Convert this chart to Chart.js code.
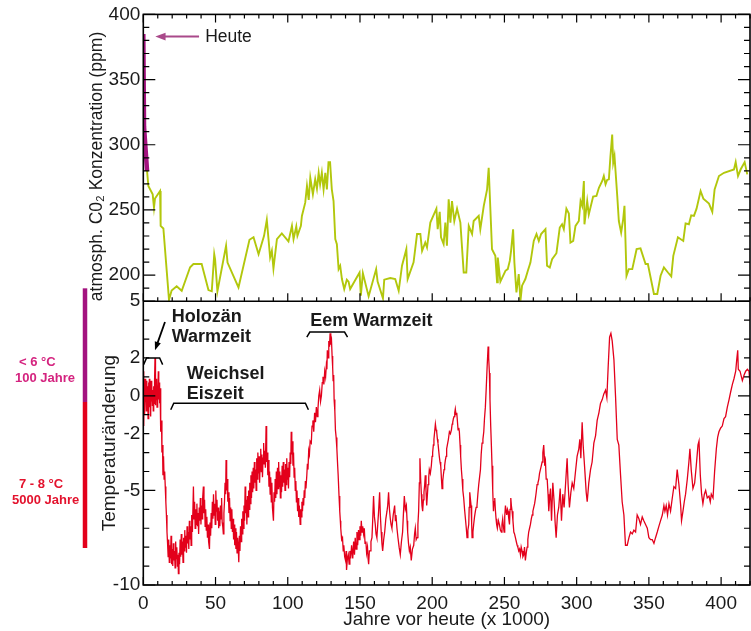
<!DOCTYPE html>
<html lang="de">
<head>
<meta charset="utf-8">
<title>CO2 und Temperatur - Eiskern</title>
<script src="https://cdn.jsdelivr.net/npm/chart.js@4.4.1/dist/chart.umd.min.js"></script>
<style>
    html, body { margin: 0; padding: 0; background: #fff; }
    canvas { display: block; }
</style>
</head>
<body>
<canvas id="chart1" width="751" height="631"></canvas>
<script>
// Achsen-Beschriftungen //
const jahreTicks = [0, 50, 100, 150, 200, 250, 300, 350, 400];
const co2Ticks = [200, 250, 300, 350, 400];
const tempTicks = [-10, -5, -2, 0, 2, 5];

// CO2 heute (Anstieg der letzten Zeit) [Jahre x 1000, ppm]
const co2Heute = [[0, 385], [0.5, 314], [2.6, 280]];

// CO2 aus dem Eiskern [Jahre x 1000, ppm]
const co2Werte = [
    [2.6, 280], [3.5, 268.4], [6.5, 262], [7.4, 251.8], [8.1, 258.7], [11.6, 264.5], [12.0, 237.8], [13.9, 235.8],
    [17.8, 181], [19.6, 188.2], [23.1, 191.4], [26.6, 188], [32.4, 206], [34.7, 208.5], [40.4, 208.5], [45.1, 188.5],
    [47.4, 187.6], [49.1, 216], [49.7, 212], [51.3, 187.5], [57.3, 222.5], [58.3, 209.6], [65.9, 190.5], [73.5, 227.1],
    [76.3, 229], [79.8, 216], [83.6, 230.1], [85.5, 242.4], [87.8, 213.5], [89.0, 218.6], [90.1, 205.1], [92.5, 227.6],
    [95.9, 232], [100.5, 225.9], [102.9, 237.8], [104.0, 227.6], [105.9, 237.3], [106.7, 230.1], [109.1, 237.8], [109.8, 245.4],
    [112.1, 255.6], [113.3, 268.4], [114.5, 257.7], [115.6, 274.7], [117.4, 262], [119.0, 273.5], [120.2, 266.3], [121.4, 278.5],
    [122.4, 269.7], [123.6, 278.5], [124.8, 265.8], [126.0, 278.5], [127.1, 265.8], [128.2, 286.7], [129.3, 286.7], [130.5, 265.8],
    [131.7, 256.8], [132.9, 227.6], [134.0, 223.8], [135.2, 204.6], [136.3, 207.2], [137.5, 197], [139.1, 189.3], [140.9, 196.5],
    [142.1, 195], [143.2, 189.3], [149.7, 202], [150.6, 184.2], [152.0, 201.5], [156.0, 183.7], [161.2, 204.6], [162.2, 195],
    [165.9, 182.2], [166.8, 196.5], [171.0, 197.8], [174.4, 197], [176.8, 188], [179.1, 207.2], [182.1, 219.9], [183.0, 197],
    [187.1, 209.8], [189.5, 231.5], [191.8, 231.5], [193.0, 218.6], [195.2, 225], [196.4, 221.2], [198.7, 240.3], [202.9, 251],
    [203.8, 235.2], [205.2, 248.5], [206.1, 229], [207.9, 223.8], [209.1, 240.3], [210.2, 222.5], [211.4, 258.1], [212.6, 240.3],
    [213.7, 256.8], [215.3, 241.5], [217.2, 251], [219.5, 240.3], [221.8, 202], [223.6, 202], [225.3, 237.8], [227.6, 231.5],
    [228.7, 241.5], [232.2, 245.4], [233.3, 235.2], [235.7, 253.1], [238.0, 265.8], [239.1, 282.4], [241.4, 219.9], [243.7, 214.8],
    [244.9, 194.4], [245.4, 213.5], [247.2, 195], [250.7, 203.3], [252.3, 204.6], [253.7, 210.9], [254.6, 218.6], [256.0, 235.2],
    [256.9, 209.6], [258.3, 186.7], [259.9, 200.8], [261.1, 180.4], [262.2, 191.9], [264.5, 197], [266.2, 203.3], [268.0, 209.6],
    [270.3, 226.2], [272.2, 231.5], [273.8, 226.2], [275.4, 231.5], [278.4, 235.2], [279.5, 207.2], [281.4, 205.9], [283.0, 212.2],
    [286.0, 216.8], [288.3, 236.5], [289.9, 239], [291.1, 235.2], [292.9, 251], [294.6, 247.3], [295.7, 224.9], [297.6, 226.2],
    [299.2, 237.8], [301.5, 241.5], [302.7, 256.8], [303.8, 253.1], [305.0, 272.2], [305.4, 239], [307.3, 256.8], [308.4, 246.6],
    [311.4, 260.2], [313.7, 260.7], [315.4, 267], [317.7, 272.2], [318.8, 276], [320.0, 269.7], [321.1, 273], [322.3, 273.5],
    [323.4, 291.3], [324.6, 307.8], [325.3, 286.2], [326.2, 291.3], [328.1, 260.7], [329.2, 241.5], [330.8, 232.7], [332.2, 242.8],
    [333.1, 253.1], [334.5, 199.5], [336.1, 204.6], [338.5, 204.6], [341.5, 219.9], [344.2, 220.5], [347.7, 208.5], [349.3, 208.5],
    [353.5, 185.5], [355.8, 185.5], [358.1, 199.5], [360.4, 205.9], [363.2, 202], [365.5, 199], [366.9, 214.8], [370.1, 229],
    [373.8, 226.2], [375.4, 239.7], [377.7, 239], [379.3, 245.9], [381.2, 245.4], [383.0, 251], [385.8, 264.5], [387.7, 258.7],
    [391.6, 254.9], [393.9, 248.5], [395.5, 265.8], [398.5, 276], [402.0, 278.5], [408.9, 281], [410.1, 286.7], [411.7, 276],
    [413.5, 281], [416.3, 286.7], [418.1, 277.3]
];

// Temperaturänderung [Jahre x 1000, °C]
const tempWerte = [
    [0, 1.3], [0.3, -1.6], [0.6, 0.5], [0.9, -1.0], [1.2, 0.9], [1.5, -0.3], [1.8, 0.6], [2.1, -0.8], [2.4, 0.8], [2.7, -0.2],
    [3.0, 0.5], [3.3, -1.2], [3.6, 0.7], [3.9, -0.4], [4.2, 0.9], [4.5, -0.6], [4.8, 0.4], [5.1, -1.1], [5.4, 0.8], [5.7, -0.3],
    [6.0, 0.6], [6.3, -0.5], [6.6, 0.3], [6.9, -0.8], [7.2, 0.5], [7.5, -0.4], [7.8, 0.8], [8.1, 2.0], [8.3, -0.5], [8.6, 0.6],
    [8.9, -0.2], [9.2, 0.9], [9.5, -0.6], [9.8, 0.5], [10.1, -0.3], [10.4, 1.3], [10.7, -0.2], [11.0, 0.7], [11.3, -0.4], [11.6, 0.4],
    [11.9, -0.8], [12.2, -1.9], [12.6, -1.3], [12.9, -3.0], [13.3, -2.6], [13.6, -4.2], [14.0, -3.2], [14.4, -4.4], [14.8, -4.0], [15.2, -4.8],
    [15.6, -5.6], [16.0, -6.3], [16.4, -7.2], [16.8, -7.8], [17.2, -8.5],
    [17.6, -7.6], [18.0, -8.8], [18.4, -7.9], [18.8, -8.6], [19.2, -7.4], [19.6, -8.9], [20.0, -8.1], [20.4, -9.0], [20.8, -7.8], [21.2, -8.7],
    [21.6, -8.2], [22.0, -9.1], [22.4, -7.7], [22.8, -8.6], [23.2, -8.0], [23.6, -9.0], [24.0, -8.4], [24.3, -9.4], [24.7, -8.3], [25.1, -8.9],
    [25.5, -7.6], [25.9, -8.5], [26.3, -7.3], [26.7, -8.4], [27.1, -7.7], [27.5, -8.8], [27.9, -7.5], [28.3, -8.2], [28.7, -7.1], [29.1, -8.0],
    [29.5, -7.4], [29.9, -8.3], [30.3, -6.9], [30.7, -7.8], [31.1, -7.2], [31.5, -8.1], [31.9, -6.6], [32.3, -7.6], [32.7, -6.9], [33.1, -7.9],
    [33.5, -6.3], [34.0, -7.2], [34.7, -4.8], [35.1, -6.5], [35.5, -5.6], [35.9, -7.0], [36.3, -6.0], [36.7, -6.8], [37.1, -5.7], [37.5, -6.9],
    [37.9, -6.2], [38.3, -7.3], [38.7, -5.9], [39.1, -6.6], [39.5, -5.4], [39.9, -6.8], [40.3, -5.8], [40.7, -6.5], [41.1, -5.4], [41.6, -4.8],
    [42.0, -6.2], [42.4, -5.5], [42.8, -6.9], [43.2, -6.0], [43.6, -7.1], [44.0, -6.4], [44.4, -7.5], [44.8, -6.8], [45.2, -7.7], [45.8, -8.1],
    [46.2, -6.7], [46.6, -7.4], [47.0, -6.2], [47.4, -7.0], [47.8, -5.6], [48.2, -6.5], [48.6, -5.2], [49.0, -6.3], [49.4, -5.7], [49.8, -6.8],
    [50.2, -5.0], [50.6, -6.1], [51.0, -5.5], [51.4, -6.6], [51.8, -5.9], [52.2, -7.0], [52.6, -6.1], [53.0, -6.9], [53.4, -5.8], [53.8, -6.5],
    [54.2, -5.4], [54.6, -6.7], [55.0, -6.9], [55.4, -7.3], [55.8, -6.2], [56.2, -5.6], [56.6, -4.6], [57.0, -5.2], [57.3, -3.4], [57.7, -5.0],
    [58.1, -4.4], [58.5, -5.6], [58.9, -5.1], [59.3, -6.2], [59.7, -5.4], [60.1, -6.6], [60.5, -5.9], [60.9, -7.0], [61.3, -6.0], [61.7, -7.2],
    [62.1, -6.5], [62.5, -7.6], [62.9, -6.8], [63.3, -7.9], [63.7, -7.0], [64.1, -8.1], [64.5, -7.2], [64.9, -8.3], [65.3, -7.5], [65.7, -8.0],
    [66.1, -8.8], [66.5, -7.4], [66.9, -8.2], [67.3, -6.9], [67.7, -7.7], [68.1, -6.5], [68.5, -7.3], [68.9, -6.1], [69.3, -7.0], [69.7, -5.8],
    [70.1, -6.6], [70.5, -4.8], [70.9, -6.2], [71.3, -5.5], [71.7, -6.8], [72.1, -5.3], [72.5, -6.4], [72.9, -5.0], [73.3, -6.0], [73.7, -4.6],
    [74.1, -5.7], [74.5, -4.2], [74.9, -5.4], [75.3, -4.0], [75.7, -5.1], [76.1, -3.8], [76.5, -4.9], [76.9, -3.5], [77.3, -4.6], [77.7, -3.9],
    [78.1, -5.0], [78.5, -3.3], [78.9, -4.4], [79.3, -3.0], [79.7, -4.1], [80.1, -3.2], [80.5, -4.6], [80.9, -3.6], [81.3, -2.8], [81.7, -4.0],
    [82.1, -3.1], [82.5, -4.3], [82.9, -3.3], [83.3, -2.5], [83.7, -3.6], [84.1, -2.9], [84.5, -3.8], [85.0, -1.6], [85.4, -3.5], [85.8, -3.0],
    [86.2, -4.2], [86.6, -3.4], [87.0, -4.8], [87.4, -4.0], [87.8, -5.2], [88.2, -4.3], [88.6, -5.6], [89.0, -4.6], [89.4, -5.9], [90.1, -6.6],
    [90.5, -5.1], [90.9, -5.6], [91.3, -4.4], [91.7, -5.4], [92.1, -4.0], [92.5, -5.2], [92.9, -3.8], [93.3, -4.9], [93.7, -3.5], [94.1, -4.8],
    [94.5, -4.0], [94.9, -5.4], [95.3, -4.2], [95.7, -5.1], [96.1, -3.7], [96.5, -4.8], [96.9, -3.5], [97.3, -4.6], [97.7, -3.9], [98.1, -5.0],
    [98.5, -3.6], [98.9, -4.7], [99.3, -3.3], [99.7, -4.4], [100.1, -3.8], [100.5, -4.9], [100.9, -3.5], [101.3, -4.3], [101.7, -3.0], [102.1, -3.6],
    [102.4, -1.9], [102.8, -3.1], [103.2, -2.4], [103.6, -3.7], [104.0, -3.0], [104.4, -4.3], [104.8, -3.8], [105.2, -5.0], [105.6, -4.5], [106.0, -5.6],
    [106.4, -5.0], [106.8, -6.1], [107.2, -5.4], [107.6, -6.4], [108.0, -5.8], [108.6, -6.8], [109.0, -6.0], [109.4, -6.4], [109.8, -5.6], [110.2, -6.1],
    [110.6, -5.4], [111.0, -5.8], [111.4, -5.0], [111.8, -5.4], [112.2, -4.5], [112.6, -4.9], [113.2, -4.2], [113.6, -3.6], [114.0, -3.9], [114.5, -2.9],
    [115.0, -3.1], [115.5, -2.4], [116.3, -2.5], [116.8, -1.6], [117.4, -1.3], [118.0, -1.9], [118.6, -0.9], [119.2, -1.4], [119.8, -0.6], [120.4, -1.1],
    [120.9, -0.7], [121.5, 0.0], [122.1, 0.3], [122.7, -0.3], [123.3, 0.0], [123.9, 0.7], [124.4, 1.0], [125.0, 0.6], [125.6, 1.3], [126.2, 1.0],
    [126.7, 1.6], [127.1, 1.4], [127.4, 2.4], [127.9, 2.0], [128.4, 2.9], [128.9, 2.6], [129.3, 3.3], [129.8, 2.7], [130.3, 2.9], [130.7, 2.1],
    [131.1, 1.5], [131.4, 0.8], [131.8, 1.1], [132.1, -0.2], [132.6, -0.8], [133.0, -1.8], [133.5, -2.2], [134.0, -2.8], [134.5, -3.6], [134.9, -4.2],
    [135.5, -5.3], [136.0, -6.1], [136.4, -6.6], [136.7, -7.0], [137.3, -7.6], [137.9, -7.5], [138.4, -8.2], [138.8, -7.9], [139.4, -8.5], [140.0, -8.7],
    [140.4, -8.2], [140.7, -9.2], [141.3, -8.6], [141.9, -8.4], [142.5, -8.9], [143.0, -8.2], [143.6, -8.6], [144.2, -7.9], [145.0, -8.6], [145.6, -7.7],
    [146.2, -8.4], [146.7, -7.5], [147.3, -8.1], [147.9, -7.2], [148.4, -7.9], [149.0, -7.1], [149.5, -7.6], [150.0, -6.9], [150.5, -7.4], [150.9, -6.6],
    [151.4, -7.2], [151.9, -6.9], [152.5, -7.3], [153.0, -7.0], [153.5, -7.8], [154.1, -7.7], [154.6, -8.3], [155.2, -8.0], [155.6, -8.6], [156.0, -8.9],
    [156.5, -8.2], [157.1, -8.2], [157.6, -7.7], [158.3, -7.5], [158.8, -6.6], [159.4, -5.3], [160.0, -6.4], [160.6, -6.8], [161.1, -7.3], [161.7, -7.5],
    [162.3, -6.8], [162.9, -6.1], [163.6, -5.1], [164.1, -6.3], [164.7, -7.2], [165.2, -7.8], [165.7, -8.2], [166.4, -7.6], [167.1, -7.2], [167.9, -6.5],
    [168.7, -6.1], [169.2, -5.8], [169.8, -5.1], [170.4, -6.0], [171.0, -6.5], [171.5, -6.8], [172.1, -7.0], [173.0, -6.3], [174.0, -5.8], [174.5, -6.6],
    [174.9, -6.3], [175.6, -7.0], [176.3, -7.5], [177.1, -8.0], [177.9, -8.4], [178.7, -7.7], [179.5, -7.2], [180.1, -6.2], [180.7, -5.3], [181.4, -6.0],
    [182.1, -5.8], [182.6, -6.6], [183.0, -7.2], [183.6, -7.8], [184.2, -8.2], [184.8, -8.0], [185.5, -8.7], [186.3, -8.1], [187.2, -7.9], [187.8, -7.3],
    [188.3, -7.0], [188.9, -7.6], [189.5, -7.5], [190.1, -6.8], [190.6, -6.1], [191.1, -4.6], [191.5, -3.3], [192.0, -4.4], [192.5, -5.2], [192.9, -5.8],
    [193.4, -6.1], [193.9, -5.5], [194.3, -5.1], [194.8, -4.7], [195.2, -4.2], [195.7, -5.0], [196.2, -5.8], [196.7, -5.2], [197.1, -4.7], [197.6, -4.3],
    [198.0, -3.9], [198.7, -4.1], [199.4, -3.7], [199.9, -3.2], [200.3, -3.0], [200.8, -2.6], [201.2, -2.3], [201.7, -1.9], [202.2, -1.5], [202.7, -1.8],
    [203.1, -1.9], [203.6, -2.3], [204.0, -2.5], [204.5, -2.9], [204.9, -3.2], [205.4, -3.5], [205.9, -3.7], [206.4, -4.4], [206.8, -4.9], [207.3, -4.5],
    [207.7, -4.2], [208.2, -3.9], [208.6, -3.7], [209.1, -3.4], [209.6, -3.2], [210.0, -2.8], [210.5, -2.6], [211.2, -2.3], [211.9, -1.9], [212.6, -2.0],
    [213.3, -1.8], [213.8, -1.5], [214.2, -1.4], [214.7, -1.2], [215.1, -1.1], [215.6, -0.9], [216.0, -0.7], [216.5, -1.0], [217.0, -0.9], [217.5, -1.4],
    [217.9, -1.8], [218.4, -1.7], [218.8, -1.9], [219.3, -2.6], [219.7, -3.2], [220.2, -3.9], [220.7, -4.4], [221.2, -5.0], [221.8, -5.4], [222.4, -6.0],
    [223.0, -6.5], [223.6, -7.0], [224.1, -7.5], [224.7, -7.1], [225.3, -6.8], [225.6, -5.9], [226.0, -5.1], [226.5, -5.5], [226.9, -5.8], [227.3, -6.7],
    [227.6, -7.5], [228.2, -7.2], [228.7, -6.8], [229.3, -6.4], [229.9, -6.1], [230.4, -5.9], [231.0, -5.8], [231.6, -5.2], [232.2, -4.7], [232.8, -4.3],
    [233.4, -3.9], [233.9, -3.1], [234.5, -2.5], [235.1, -2.3], [235.7, -1.9], [236.2, -1.2], [236.8, -0.6], [237.4, 0.4], [238.0, 1.5], [238.7, 2.6],
    [239.1, 2.0], [239.6, 1.2], [240.0, -0.2], [240.5, -1.6], [241.0, -2.7], [241.4, -3.7], [241.9, -5.0], [242.4, -6.1], [242.8, -5.6], [243.3, -5.4],
    [243.7, -6.0], [244.2, -6.5], [244.6, -6.8], [245.1, -7.0], [245.8, -6.6], [246.5, -6.8], [247.2, -7.1], [247.9, -7.2], [248.3, -6.8], [248.8, -6.5],
    [249.3, -6.9], [249.8, -7.2], [250.2, -6.4], [250.7, -5.8], [251.2, -6.1], [251.6, -6.3], [252.1, -6.0], [252.5, -6.1], [253.0, -6.5], [253.5, -6.8],
    [253.9, -6.0], [254.4, -5.4], [254.8, -5.8], [255.3, -6.1], [255.9, -6.6], [256.5, -7.2], [257.0, -7.3], [257.6, -7.5], [258.2, -7.7], [258.8, -7.9],
    [259.3, -8.0], [259.9, -8.2], [260.5, -8.1], [261.1, -8.4], [261.6, -8.0], [262.2, -8.2], [262.8, -8.5], [263.4, -8.4], [263.9, -8.0], [264.5, -8.7],
    [265.1, -8.3], [265.7, -8.0], [266.2, -7.6], [266.8, -7.2], [267.4, -7.0], [268.0, -6.8], [268.6, -6.5], [269.2, -6.3], [269.7, -6.1], [270.3, -5.9],
    [270.9, -5.7], [271.5, -5.4], [272.0, -5.1], [272.6, -4.7], [273.2, -4.6], [273.8, -4.4], [274.3, -4.1], [274.9, -3.9], [275.5, -3.7], [276.1, -3.5],
    [276.6, -3.0], [277.2, -2.6], [277.6, -3.2], [277.9, -3.7], [278.4, -3.5], [278.9, -4.4], [279.6, -4.4], [280.2, -5.2], [280.7, -6.1], [281.3, -5.4],
    [281.9, -4.9], [282.6, -6.6], [283.5, -4.6], [284.4, -5.6], [285.1, -6.7], [285.8, -7.5], [286.7, -6.3], [287.6, -5.9], [288.6, -4.9], [289.5, -6.6],
    [290.4, -5.2], [291.3, -5.9], [292.3, -4.7], [293.4, -3.3], [294.1, -4.7], [295.0, -5.9], [296.0, -5.1], [296.9, -4.6], [298.0, -4.9], [299.2, -4.0],
    [300.3, -3.2], [301.5, -2.8], [302.2, -2.3], [302.9, -3.3], [303.8, -1.4], [304.5, -2.6], [305.7, -4.0], [306.6, -5.1], [307.3, -5.6], [308.4, -4.6],
    [309.6, -3.9], [310.7, -3.5], [311.9, -2.5], [313.1, -2.1], [314.2, -1.3], [315.4, -0.9], [316.5, -0.4], [317.7, -0.2], [318.8, 0.1], [320.0, 0.3],
    [320.9, -0.1], [321.8, 1.5], [322.8, 3.1], [323.7, 3.3], [324.6, 2.9], [325.8, 1.9], [326.9, 0.0], [328.1, -2.3], [329.2, -2.6], [330.4, -4.2],
    [331.5, -5.6], [332.7, -6.3], [333.8, -7.9], [335.0, -7.9], [336.2, -7.5], [337.3, -7.2], [338.5, -7.3], [339.6, -7.1], [340.8, -7.2], [341.9, -6.3],
    [343.1, -6.5], [344.2, -6.8], [345.4, -6.4], [346.5, -6.6], [347.7, -6.8], [348.9, -7.0], [350.0, -7.5], [351.2, -7.6], [352.3, -7.6], [353.5, -7.8],
    [354.6, -7.5], [355.8, -7.2], [356.9, -6.9], [358.1, -6.6], [359.3, -6.3], [360.4, -5.8], [361.1, -6.1], [362.0, -5.8], [362.9, -6.3], [363.9, -5.7],
    [365.0, -6.1], [366.2, -5.4], [367.3, -4.8], [368.5, -4.9], [369.6, -3.9], [370.8, -4.7], [372.0, -5.8], [372.6, -6.6], [373.6, -6.1], [374.5, -5.6],
    [375.4, -5.2], [376.6, -4.4], [377.7, -3.5], [378.4, -2.8], [379.3, -3.9], [380.5, -4.9], [381.7, -4.6], [382.8, -3.7], [384.0, -2.6], [384.7, -2.4],
    [385.6, -4.2], [386.5, -5.2], [387.4, -5.7], [388.4, -5.2], [389.3, -5.0], [390.4, -5.4], [391.6, -5.3], [392.5, -5.6], [393.2, -5.2], [394.4, -5.4],
    [395.5, -4.0], [396.7, -2.8], [397.6, -2.2], [398.5, -1.9], [399.7, -1.7], [400.8, -1.6], [402.0, -1.2], [403.1, -1.1], [404.3, -0.6], [405.5, -0.2],
    [406.6, 0.2], [407.8, 0.6], [408.9, 0.9], [410.1, 1.3], [410.8, 1.9], [411.5, 2.4], [411.9, 1.4], [413.1, 1.3], [414.7, 0.8], [415.9, 1.1],
    [417.0, 1.3], [418.2, 1.4], [419.3, 1.3], [420.0, 0.6]
];

const SCHRIFT = "'Liberation Sans', Arial, Helvetica, sans-serif";
const TEXTFARBE = '#1a1a1a';

// Rahmen und Striche nach innen (wie im Original)
const rahmenPlugin = {
    id: 'rahmen',
    afterDatasetsDraw(chart) {
        const {ctx, chartArea: a} = chart;
        const {x, yT, yB} = chart.scales;
        const strich = (x1, y1, x2, y2) => { ctx.moveTo(x1, y1); ctx.lineTo(x2, y2); };

        ctx.save();
        ctx.strokeStyle = '#000';
        ctx.lineWidth = 1.2;
        ctx.beginPath();

        // y-Striche links und rechts
        [[yT, 10, 50], [yB, 1, 5]].forEach(([s, schritt, haupt]) => {
            const n = Math.round((s.max - s.min) / schritt);
            for (let i = 0; i <= n; i++) {
                const v = s.min + i * schritt;
                const py = s.getPixelForValue(v);
                const len = v % haupt === 0 ? 12 : 6;
                strich(a.left, py, a.left + len, py);
                strich(a.right, py, a.right - len, py);
            }
        });

        // x-Striche unten, in der Mitte und oben
        const n = Math.round((x.max - x.min) / 10);
        for (let i = 0; i <= n; i++) {
            const v = x.min + i * 10;
            const px = x.getPixelForValue(v);
            const len = v % 50 === 0 ? 8 : 4;
            strich(px, a.bottom, px, a.bottom - len);
            strich(px, yT.bottom, px, yT.bottom - len);
            strich(px, a.top, px, a.top + len);
        }
        ctx.stroke();

        ctx.lineWidth = 1.6;
        ctx.strokeRect(a.left, a.top, a.right - a.left, a.bottom - a.top);
        ctx.beginPath();
        strich(a.left, yT.bottom, a.right, yT.bottom);
        ctx.stroke();
        ctx.restore();
    }
};

function pfeil(ctx, x1, y1, x2, y2, farbe, breite, kopf) {
    const w = Math.atan2(y2 - y1, x2 - x1);
    ctx.strokeStyle = farbe;
    ctx.fillStyle = farbe;
    ctx.lineWidth = breite;
    ctx.beginPath();
    ctx.moveTo(x1, y1);
    ctx.lineTo(x2 - Math.cos(w) * kopf * 0.8, y2 - Math.sin(w) * kopf * 0.8);
    ctx.stroke();
    ctx.beginPath();
    ctx.moveTo(x2, y2);
    ctx.lineTo(x2 - kopf * Math.cos(w - 0.36), y2 - kopf * Math.sin(w - 0.36));
    ctx.lineTo(x2 - kopf * Math.cos(w + 0.36), y2 - kopf * Math.sin(w + 0.36));
    ctx.closePath();
    ctx.fill();
}

// Beschriftungen, Klammern und Pfeile
const notizPlugin = {
    id: 'notizen',
    afterDraw(chart) {
        const {ctx} = chart;
        const {x, yT, yB} = chart.scales;
        const X = v => x.getPixelForValue(v);
        const B = v => yB.getPixelForValue(v);
        const T = v => yT.getPixelForValue(v);

        ctx.save();

        // Heute
        pfeil(ctx, X(38.6), T(383), X(8.3), T(383), '#a9498a', 2, 11);
        ctx.fillStyle = TEXTFARBE;
        ctx.font = '17.5px ' + SCHRIFT;
        ctx.textBaseline = 'middle';
        ctx.textAlign = 'left';
        ctx.fillText('Heute', X(42.8), T(382.5));

        // Warm- und Eiszeiten
        ctx.textBaseline = 'alphabetic';
        ctx.font = 'bold 18px ' + SCHRIFT;
        ctx.fillText('Holozän', X(19.7), B(3.9));
        ctx.fillText('Warmzeit', X(19.7), B(2.82));
        ctx.fillText('Weichsel', X(30.1), B(0.9));
        ctx.fillText('Eiszeit', X(30.1), B(-0.17));
        ctx.fillText('Eem Warmzeit', X(115.5), B(3.69));

        // Klammern
        ctx.strokeStyle = '#000';
        ctx.lineWidth = 1.5;
        [[0.2, 13.4, 2.0, 1.65], [19.0, 114.3, -0.39, -0.74], [113.2, 141.4, 3.37, 3.1]].forEach(([x1, x2, oben, ende]) => {
            ctx.beginPath();
            ctx.moveTo(X(x1), B(ende));
            ctx.lineTo(X(x1) + 3, B(oben));
            ctx.lineTo(X(x2) - 3, B(oben));
            ctx.lineTo(X(x2), B(ende));
            ctx.stroke();
        });

        pfeil(ctx, X(15.0), B(3.9), X(8.1), B(2.41), '#000', 1.8, 9);

        // Skala links: Balken und Texte
        ctx.lineWidth = 4.5;
        ctx.strokeStyle = '#a3127f';
        ctx.beginPath();
        ctx.moveTo(85, B(5.68));
        ctx.lineTo(85, B(-0.33));
        ctx.stroke();
        ctx.strokeStyle = '#e3001b';
        ctx.beginPath();
        ctx.moveTo(85, B(-0.33));
        ctx.lineTo(85, B(-8.04));
        ctx.stroke();

        ctx.font = 'bold 13px ' + SCHRIFT;
        ctx.textBaseline = 'middle';
        ctx.fillStyle = '#d4237f';
        ctx.fillText('< 6 °C', 19, 362);
        ctx.fillText('100 Jahre', 15, 378);
        ctx.fillStyle = '#e3122d';
        ctx.fillText('7 - 8 °C', 19, 484);
        ctx.fillText('5000 Jahre', 12, 500);

        ctx.restore();
    }
};

const canvas1 = document.getElementById('chart1');

new Chart(canvas1, {
    type: 'line',
    data: {
        datasets: [{
            label: 'CO2',
            data: co2Werte.map(([x, y]) => ({x, y})),
            yAxisID: 'yT',
            borderColor: '#b2c70c',
            borderWidth: 1.9,
            pointRadius: 0,
            tension: 0,
        }, {
            label: 'CO2 heute',
            data: co2Heute.map(([x, y]) => ({x, y})),
            yAxisID: 'yT',
            borderColor: '#a3127f',
            borderWidth: 4.5,
            pointRadius: 0,
            tension: 0,
        }, {
            label: 'Temperatur',
            data: tempWerte.map(([x, y]) => ({x, y})),
            yAxisID: 'yB',
            borderColor: '#e3001b',
            borderWidth: 1.3,
            pointRadius: 0,
            tension: 0,
        }],
    },
    options: {
        responsive: false,
        devicePixelRatio: 1,
        animation: false,
        events: [],
        layout: { padding: { top: 10, right: 1, bottom: 0, left: 0 } },
        plugins: {
            legend: { display: false },
            tooltip: { enabled: false }
        },
        scales: {
            x: {
                type: 'linear',
                min: 0,
                max: 420,
                afterBuildTicks: s => { s.ticks = jahreTicks.map(v => ({value: v})); },
                afterFit: s => { s.height = 46; },
                grid: { display: false, drawTicks: false },
                border: { display: false },
                ticks: { padding: 7, color: TEXTFARBE, autoSkip: false, maxRotation: 0,
                    font: { family: SCHRIFT, size: 19 }, callback: v => String(v) },
                title: { display: true, text: 'Jahre vor heute (x 1000)', color: TEXTFARBE, padding: 0,
                    font: { family: SCHRIFT, size: 19, lineHeight: 1.15 } }
            },
            yB: {
                type: 'linear',
                position: 'left',
                stack: 'v',
                stackWeight: 286,
                min: -10,
                max: 5,
                afterBuildTicks: s => { s.ticks = tempTicks.map(v => ({value: v})); },
                afterFit: s => { s.width = 143.3; },
                grid: { display: false, drawTicks: false },
                border: { display: false },
                ticks: { padding: 3, color: TEXTFARBE, font: { family: SCHRIFT, size: 19 }, callback: v => String(v) },
                title: { display: true, text: 'Temperaturänderung', color: TEXTFARBE,
                    padding: { top: 100.5, bottom: 0 }, font: { family: SCHRIFT, size: 19, lineHeight: 1 } }
            },
            yT: {
                type: 'linear',
                position: 'left',
                stack: 'v',
                stackWeight: 289,
                min: 180,
                max: 400,
                afterBuildTicks: s => { s.ticks = co2Ticks.map(v => ({value: v})); },
                afterFit: s => { s.width = 143.3; },
                grid: { display: false, drawTicks: false },
                border: { display: false },
                ticks: { padding: 3, color: TEXTFARBE, font: { family: SCHRIFT, size: 19 }, callback: v => String(v) },
                title: { display: true, text: 'atmosph. C0₂ Konzentration (ppm)', color: TEXTFARBE, align: 'start',
                    padding: { top: 88, bottom: 0 }, font: { family: SCHRIFT, size: 17.5, lineHeight: 1 } }
            }
        }
    },
    plugins: [rahmenPlugin, notizPlugin]
});
</script>
</body>
</html>
